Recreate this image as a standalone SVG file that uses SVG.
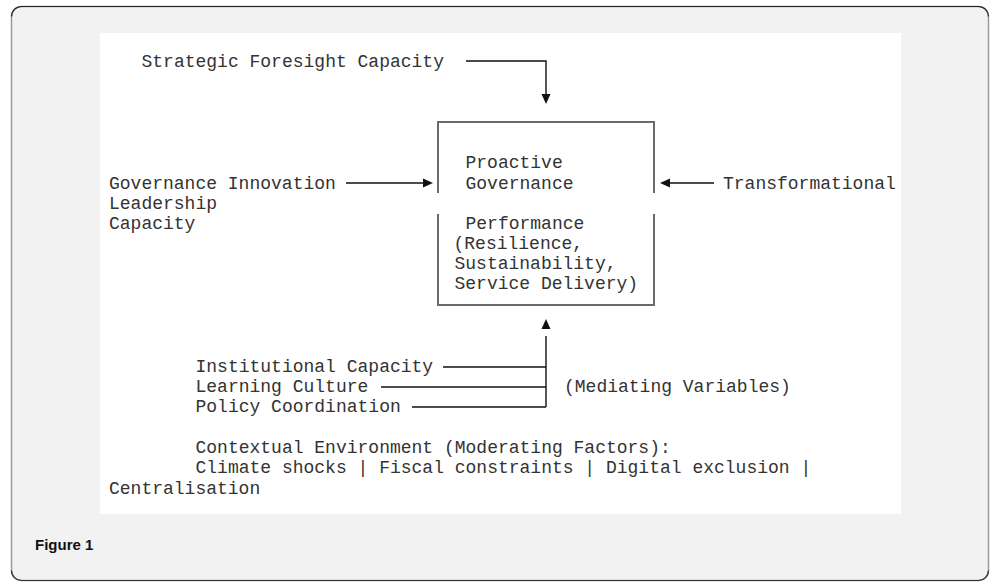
<svg xmlns="http://www.w3.org/2000/svg" width="1001" height="587" viewBox="0 0 1001 587">
  <style>
    .t { font-family: "Liberation Mono", "Courier New", monospace; font-size: 18px; fill: #333333; }
    .c { fill: none; stroke: #111; stroke-width: 1.4; }
    .box { fill: none; stroke: #6a6a6a; stroke-width: 2; }
    .cap { font-family: "Liberation Sans", Arial, sans-serif; font-size: 15px; font-weight: bold; fill: #111; }
  </style>
  <defs>
    <marker id="arr" markerUnits="userSpaceOnUse" markerWidth="12" markerHeight="10" refX="0" refY="4.5" orient="auto" overflow="visible">
      <path d="M0,0 L10,4.5 L0,9 z" fill="#111"/>
    </marker>
    <marker id="arrgap" markerUnits="userSpaceOnUse" markerWidth="20" markerHeight="10" refX="0" refY="4.5" orient="auto" overflow="visible">
      <path d="M7,0 L17,4.5 L7,9 z" fill="#111"/>
    </marker>
  </defs>

  <g id="frame">
    <rect x="11.5" y="6.5" width="977" height="574" rx="10" ry="10" fill="#f2f2f2" stroke="#9a9a9a" stroke-width="1.5"/>
    <path d="M11.5,16.5 A10,10 0 0 1 21.5,6.5 H978.5 A10,10 0 0 1 988.5,16.5" fill="none" stroke="#222" stroke-width="1.2"/>
    <path d="M11.5,570.5 A10,10 0 0 0 21.5,580.5 H978.5 A10,10 0 0 0 988.5,570.5" fill="none" stroke="#333" stroke-width="1.2"/>
    <rect x="100" y="33" width="801" height="481" fill="#ffffff"/>
    <text class="cap" x="35" y="550">Figure 1</text>
  </g>

  <g id="connectors">
    <path class="c" d="M466,61 H546 V94" marker-end="url(#arr)"/>
    <path class="c" d="M346,183 H423" marker-end="url(#arr)"/>
    <path class="c" d="M714,183 H670" marker-end="url(#arr)"/>
    <path class="c" d="M546,407 V336" marker-end="url(#arrgap)"/>
    <path class="c" d="M443,367 H546"/>
    <path class="c" d="M381,387 H546"/>
    <path class="c" d="M412,407 H546"/>
  </g>

  <g id="node-strategic-foresight">
    <text class="t" x="141.5" y="66.5">Strategic Foresight Capacity</text>
  </g>

  <g id="node-governance-innovation">
    <text class="t" x="109" y="189">Governance Innovation</text>
    <text class="t" x="109" y="209">Leadership</text>
    <text class="t" x="109" y="229">Capacity</text>
  </g>

  <g id="node-proactive-governance">
    <path class="box" d="M438,193 V122 H654 V193 M654,214 V305 H438 V214"/>
    <text class="t" x="465.5" y="168">Proactive</text>
    <text class="t" x="465.5" y="189">Governance</text>
    <text class="t" x="465.5" y="229">Performance</text>
    <text class="t" x="453.5" y="249">(Resilience,</text>
    <text class="t" x="454.5" y="269">Sustainability,</text>
    <text class="t" x="454.5" y="289">Service Delivery)</text>
  </g>

  <g id="node-transformational">
    <text class="t" x="723" y="189">Transformational</text>
  </g>

  <g id="node-institutional-capacity">
    <text class="t" x="195.5" y="372">Institutional Capacity</text>
  </g>
  <g id="node-learning-culture">
    <text class="t" x="195.5" y="392">Learning Culture</text>
  </g>
  <g id="node-policy-coordination">
    <text class="t" x="195.5" y="412">Policy Coordination</text>
  </g>
  <g id="node-mediating-variables">
    <text class="t" x="564" y="392">(Mediating Variables)</text>
  </g>

  <g id="node-contextual-environment">
    <text class="t" x="195.5" y="453">Contextual Environment (Moderating Factors):</text>
    <text class="t" x="195.5" y="473">Climate shocks | Fiscal constraints | Digital exclusion |</text>
    <text class="t" x="109" y="494">Centralisation</text>
  </g>
</svg>
